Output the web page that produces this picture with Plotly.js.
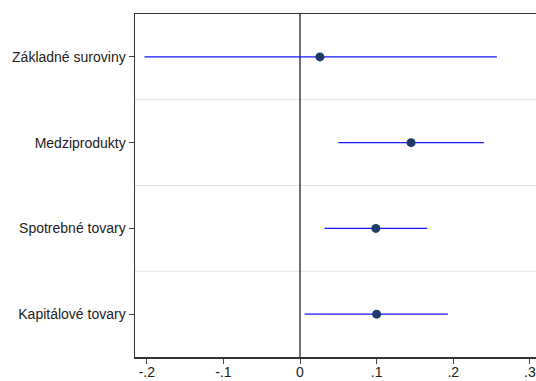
<!DOCTYPE html>
<html>
<head>
<meta charset="utf-8">
<script src="https://cdn.plot.ly/plotly-3.0.1.min.js"></script>
<style>
html, body { margin:0; padding:0; overflow:hidden; background:#fff; }
#chart { width:545px; height:381px; }
</style>
</head>
<body>
<div id="chart"></div>
<script>
const categories = ["Základné suroviny", "Medziprodukty", "Spotrebné tovary", "Kapitálové tovary"];
const estimates = [0.026, 0.145, 0.099, 0.100];
const lowerCI = [-0.203, 0.050, 0.032, 0.006];
const upperCI = [0.257, 0.240, 0.166, 0.193];
const xTickVals = [-0.2, -0.1, 0, 0.1, 0.2, 0.3];
const xTickText = ["-.2", "-.1", "0", ".1", ".2", ".3"];

const pos = categories.map((c, i) => i + 1);

const trace = {
  type: "scatter",
  mode: "markers",
  x: estimates,
  y: pos,
  marker: { color: "#1f3b6b", size: 9 },
  error_x: {
    type: "data",
    symmetric: false,
    array: estimates.map((e, i) => upperCI[i] - e),
    arrayminus: estimates.map((e, i) => e - lowerCI[i]),
    color: "#1515ff",
    thickness: 1.3,
    width: 0
  },
  hoverinfo: "skip"
};

const shapes = [];
for (let i = 1; i < categories.length; i++) {
  shapes.push({
    type: "line", xref: "paper", yref: "y",
    x0: 0, x1: 1, y0: i + 0.5, y1: i + 0.5,
    line: { color: "#e3e3e3", width: 1.2 },
    layer: "below"
  });
}
shapes.push({
  type: "line", xref: "x", yref: "paper",
  x0: 0, x1: 0, y0: 0, y1: 1,
  line: { color: "#111", width: 1.2 },
  layer: "below"
});

const layout = {
  width: 545,
  height: 381,
  margin: { l: 135, r: 0, t: 13.5, b: 24 },
  paper_bgcolor: "#fff",
  plot_bgcolor: "#fff",
  showlegend: false,
  font: { family: "Liberation Sans, Arial, sans-serif", size: 14, color: "#222" },
  xaxis: {
    range: [-0.2154, 0.3198],
    tickvals: xTickVals,
    ticktext: xTickText,
    showgrid: false,
    zeroline: false,
    showline: true,
    linecolor: "#333",
    linewidth: 1.5,
    mirror: true,
    ticks: "outside",
    ticklen: 5,
    tickcolor: "#444",
    ticklabelstandoff: -3,
    tickfont: { size: 14, color: "#222" }
  },
  yaxis: {
    range: [4.5, 0.5],
    tickvals: pos,
    ticktext: categories,
    showgrid: false,
    zeroline: false,
    showline: true,
    linecolor: "#333",
    linewidth: 1.5,
    mirror: true,
    ticks: "outside",
    ticklen: 5,
    tickcolor: "#444",
    tickfont: { size: 14, color: "#222" }
  },
  shapes: shapes
};

Plotly.newPlot("chart", [trace], layout, { displayModeBar: false, staticPlot: true });
</script>
</body>
</html>
